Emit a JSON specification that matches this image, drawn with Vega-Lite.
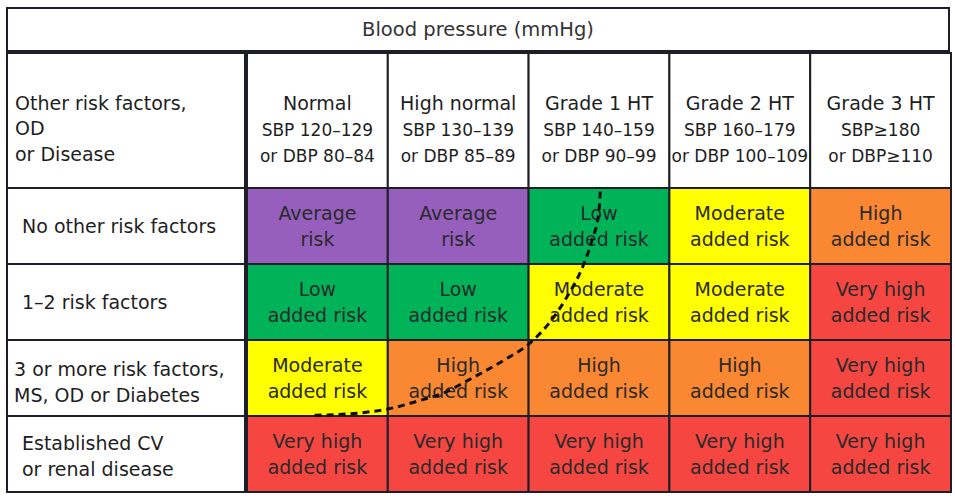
{
  "$schema": "https://vega.github.io/schema/vega-lite/v6.json",
  "padding": {"left": 6, "top": 7, "right": 3, "bottom": 5},
  "background": "white",
  "config": {
    "view": {"stroke": null},
    "font": "DejaVu Sans",
    "text": {"font": "DejaVu Sans", "color": "#1e1e1e", "lineBreak": "\n"}
  },
  "spacing": 0,
  "datasets": {
    "title": [{"part": "Blood pressure (mmHg)"}],
    "cols": [
      {"col": "Normal", "grade": "Normal", "range": "SBP 120–129\nor DBP 80–84"},
      {"col": "High normal", "grade": "High normal", "range": "SBP 130–139\nor DBP 85–89"},
      {"col": "Grade 1 HT", "grade": "Grade 1 HT", "range": "SBP 140–159\nor DBP 90–99"},
      {"col": "Grade 2 HT", "grade": "Grade 2 HT", "range": "SBP 160–179\nor DBP 100–109"},
      {"col": "Grade 3 HT", "grade": "Grade 3 HT", "range": "SBP≥180\nor DBP≥110"}
    ],
    "corner": [{"part": "Other risk factors,\nOD\nor Disease"}],
    "rows": [
      {"row": 1, "label": "No other risk factors"},
      {"row": 2, "label": "1–2 risk factors"},
      {"row": 3, "label": "3 or more risk factors,\nMS, OD or Diabetes"},
      {"row": 4, "label": "Established CV\nor renal disease"}
    ],
    "cells": [
      {"row": 1, "col": "Normal", "risk": "Average", "label": "Average\nrisk"},
      {"row": 1, "col": "High normal", "risk": "Average", "label": "Average\nrisk"},
      {"row": 1, "col": "Grade 1 HT", "risk": "Low", "label": "Low\nadded risk"},
      {"row": 1, "col": "Grade 2 HT", "risk": "Moderate", "label": "Moderate\nadded risk"},
      {"row": 1, "col": "Grade 3 HT", "risk": "High", "label": "High\nadded risk"},
      {"row": 2, "col": "Normal", "risk": "Low", "label": "Low\nadded risk"},
      {"row": 2, "col": "High normal", "risk": "Low", "label": "Low\nadded risk"},
      {"row": 2, "col": "Grade 1 HT", "risk": "Moderate", "label": "Moderate\nadded risk"},
      {"row": 2, "col": "Grade 2 HT", "risk": "Moderate", "label": "Moderate\nadded risk"},
      {"row": 2, "col": "Grade 3 HT", "risk": "Very high", "label": "Very high\nadded risk"},
      {"row": 3, "col": "Normal", "risk": "Moderate", "label": "Moderate\nadded risk"},
      {"row": 3, "col": "High normal", "risk": "High", "label": "High\nadded risk"},
      {"row": 3, "col": "Grade 1 HT", "risk": "High", "label": "High\nadded risk"},
      {"row": 3, "col": "Grade 2 HT", "risk": "High", "label": "High\nadded risk"},
      {"row": 3, "col": "Grade 3 HT", "risk": "Very high", "label": "Very high\nadded risk"},
      {"row": 4, "col": "Normal", "risk": "Very high", "label": "Very high\nadded risk"},
      {"row": 4, "col": "High normal", "risk": "Very high", "label": "Very high\nadded risk"},
      {"row": 4, "col": "Grade 1 HT", "risk": "Very high", "label": "Very high\nadded risk"},
      {"row": 4, "col": "Grade 2 HT", "risk": "Very high", "label": "Very high\nadded risk"},
      {"row": 4, "col": "Grade 3 HT", "risk": "Very high", "label": "Very high\nadded risk"}
    ],
    "curve": [
      {"cx": 0.48, "cy": 2.99},
      {"cx": 0.80, "cy": 2.96},
      {"cx": 1.02, "cy": 2.90},
      {"cx": 1.22, "cy": 2.80},
      {"cx": 1.38, "cy": 2.71},
      {"cx": 1.60, "cy": 2.50},
      {"cx": 1.83, "cy": 2.26},
      {"cx": 2.01, "cy": 2.04},
      {"cx": 2.17, "cy": 1.72},
      {"cx": 2.27, "cy": 1.44},
      {"cx": 2.39, "cy": 1.01},
      {"cx": 2.45, "cy": 0.69},
      {"cx": 2.50, "cy": 0.30},
      {"cx": 2.51, "cy": 0.0}
    ]
  },
  "vconcat": [
    {
      "width": 942,
      "height": 43,
      "data": {"name": "title"},
      "encoding": {
        "x": {"field": "part", "type": "nominal", "axis": null, "scale": {"paddingInner": 0, "paddingOuter": 0}},
        "y": {"field": "part", "type": "nominal", "axis": null, "scale": {"paddingInner": 0, "paddingOuter": 0}}
      },
      "layer": [
        {"mark": {"type": "rect", "fill": "white", "stroke": "#1e1e28", "strokeWidth": 2}},
        {"mark": {"type": "text", "fontSize": 19.5, "color": "#333333"}, "encoding": {"text": {"field": "part"}}}
      ]
    },
    {
      "spacing": 0,
      "hconcat": [
        {
          "spacing": 0,
          "bounds": "flush",
          "vconcat": [
            {
              "width": 238,
              "height": 135,
              "data": {"name": "corner"},
              "encoding": {
                "y": {"field": "part", "type": "nominal", "axis": null, "scale": {"paddingInner": 0, "paddingOuter": 0}}
              },
              "layer": [
                {
                  "mark": {"type": "rect", "fill": "white", "stroke": "#1e1e28", "strokeWidth": 2},
                  "encoding": {"x": {"field": "part", "type": "nominal", "axis": null, "scale": {"paddingInner": 0, "paddingOuter": 0}}}
                },
                {
                  "mark": {"type": "text", "fontSize": 19, "align": "left", "dx": 8, "dy": -17, "lineHeight": 25.5},
                  "encoding": {
                    "x": {"field": "part", "type": "nominal", "axis": null, "bandPosition": 0},
                    "text": {"field": "part"}
                  }
                }
              ]
            },
            {
              "width": 238,
              "height": 304,
              "data": {"name": "rows"},
              "encoding": {
                "y": {"field": "row", "type": "ordinal", "axis": null, "scale": {"paddingInner": 0, "paddingOuter": 0}}
              },
              "layer": [
                {
                  "mark": {"type": "rect", "fill": "white", "stroke": "#1e1e28", "strokeWidth": 2},
                  "encoding": {"x": {"datum": "labels", "type": "nominal", "axis": null, "scale": {"paddingInner": 0, "paddingOuter": 0}}}
                },
                {
                  "transform": [{"filter": "datum.row <= 2"}],
                  "mark": {"type": "text", "fontSize": 19, "align": "left", "dx": 15, "dy": 0.5, "lineHeight": 26},
                  "encoding": {
                    "x": {"datum": "labels", "type": "nominal", "axis": null, "bandPosition": 0},
                    "text": {"field": "label"}
                  }
                },
                {
                  "transform": [{"filter": "datum.row == 3"}],
                  "mark": {"type": "text", "fontSize": 19, "align": "left", "dx": 7, "dy": -8, "lineHeight": 26},
                  "encoding": {
                    "x": {"datum": "labels", "type": "nominal", "axis": null, "bandPosition": 0},
                    "text": {"field": "label"}
                  }
                },
                {
                  "transform": [{"filter": "datum.row == 4"}],
                  "mark": {"type": "text", "fontSize": 19, "align": "left", "dx": 15, "dy": -10, "lineHeight": 26},
                  "encoding": {
                    "x": {"datum": "labels", "type": "nominal", "axis": null, "bandPosition": 0},
                    "text": {"field": "label"}
                  }
                }
              ]
            }
          ]
        },
        {
          "spacing": 0,
          "bounds": "flush",
          "vconcat": [
            {
              "width": 704,
              "height": 135,
              "data": {"name": "cols"},
              "encoding": {
                "x": {"field": "col", "type": "nominal", "axis": null, "sort": ["Normal", "High normal", "Grade 1 HT", "Grade 2 HT", "Grade 3 HT"], "scale": {"paddingInner": 0, "paddingOuter": 0}}
              },
              "layer": [
                {"mark": {"type": "rect", "fill": "white", "stroke": "#1e1e28", "strokeWidth": 2}, "encoding": {"y": {"datum": "header", "type": "nominal", "axis": null, "scale": {"paddingInner": 0, "paddingOuter": 0}}}},
                {"mark": {"type": "text", "fontSize": 19, "dy": -16.5}, "encoding": {"y": {"datum": "header", "type": "nominal", "axis": null}, "text": {"field": "grade"}}},
                {"mark": {"type": "text", "fontSize": 17, "dy": 10.5, "lineHeight": 25.5}, "encoding": {"y": {"datum": "header", "type": "nominal", "axis": null}, "text": {"field": "range"}}}
              ]
            },
            {
              "width": 704,
              "height": 304,
              "resolve": {"scale": {"x": "independent", "y": "independent"}},
              "layer": [
                {
                  "data": {"name": "cells"},
                  "encoding": {
                    "x": {"field": "col", "type": "nominal", "axis": null, "sort": ["Normal", "High normal", "Grade 1 HT", "Grade 2 HT", "Grade 3 HT"], "scale": {"paddingInner": 0, "paddingOuter": 0}},
                    "y": {"field": "row", "type": "ordinal", "axis": null, "scale": {"paddingInner": 0, "paddingOuter": 0}}
                  },
                  "layer": [
                    {
                      "mark": {"type": "rect", "stroke": "#1e1e28", "strokeWidth": 2},
                      "encoding": {
                        "fill": {"field": "risk", "type": "nominal", "legend": null, "scale": {"domain": ["Average", "Low", "Moderate", "High", "Very high"], "range": ["#965fbe", "#00b359", "#ffff00", "#fa8732", "#f54641"]}}
                      }
                    },
                    {
                      "mark": {"type": "text", "fontSize": 19, "lineHeight": 26, "dy": -12, "color": "#2a2a2a"},
                      "encoding": {"text": {"field": "label"}}
                    }
                  ]
                },
                {
                  "data": {"name": "curve"},
                  "mark": {"type": "line", "interpolate": "monotone", "color": "#111111", "strokeWidth": 3, "strokeDash": [7, 5]},
                  "encoding": {
                    "x": {"field": "cx", "type": "quantitative", "axis": null, "scale": {"domain": [0, 5], "nice": false, "zero": false}},
                    "y": {"field": "cy", "type": "quantitative", "axis": null, "scale": {"domain": [0, 4], "nice": false, "zero": false, "reverse": true}},
                    "order": {"field": "cx"}
                  }
                }
              ]
            }
          ]
        }
      ]
    }
  ]
}
